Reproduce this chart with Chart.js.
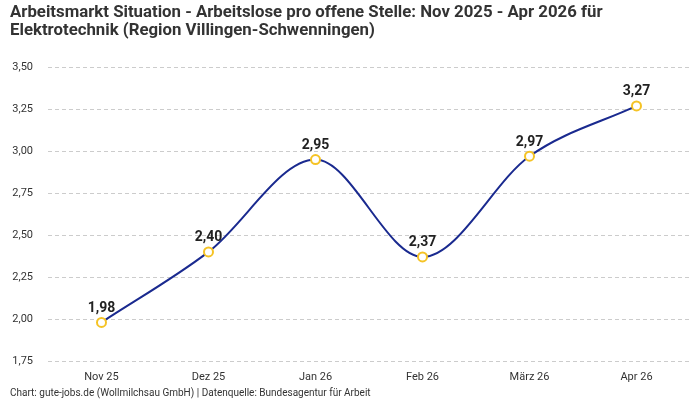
<!DOCTYPE html>
<html>
<head>
<meta charset="utf-8">
<script src="https://cdn.jsdelivr.net/npm/chart.js@4"></script>
<style>
  html, body { margin: 0; padding: 0; background: #fff; }
  #wrap { width: 700px; height: 400px; }
</style>
</head>
<body>
<div id="wrap"><canvas id="chart"></canvas></div>
<script>
// data
const months = ["Nov 25", "Dez 25", "Jan 26", "Feb 26", "März 26", "Apr 26"];
const ratio = [1.98, 2.40, 2.95, 2.37, 2.97, 3.27];
const yMin = 1.75;
const yMax = 3.5;
const yStep = 0.25;

const FONT = "Roboto, 'Noto Sans', sans-serif";
const fmt = v => v.toFixed(2).replace(".", ",");

// draws the value above each point
const valueLabels = {
  id: "valueLabels",
  afterDatasetsDraw(chart) {
    const ctx = chart.ctx;
    const meta = chart.getDatasetMeta(0);
    ctx.save();
    ctx.font = "bold 14px " + FONT;
    ctx.fillStyle = "#222";
    ctx.textAlign = "center";
    ctx.textBaseline = "bottom";
    meta.data.forEach((pt, i) => {
      ctx.fillText(fmt(ratio[i]), pt.x, pt.y - 7);
    });
    ctx.restore();
  }
};

new Chart(document.getElementById("chart"), {
  type: "line",
  data: {
    labels: months,
    datasets: [{
      data: ratio,
      borderColor: "#1a2a8f",
      borderWidth: 2,
      cubicInterpolationMode: "monotone",
      pointRadius: 4.5,
      pointBorderWidth: 2,
      pointBorderColor: "#f5c325",
      pointBackgroundColor: "#fff",
      fill: false
    }]
  },
  options: {
    responsive: true,
    maintainAspectRatio: false,
    animation: false,
    layout: { padding: { left: 10, right: 10, top: 0, bottom: 0 } },
    plugins: {
      legend: { display: false },
      tooltip: { enabled: false },
      title: {
        display: true,
        text: ["Arbeitsmarkt Situation - Arbeitslose pro offene Stelle: Nov 2025 - Apr 2026 für",
               "Elektrotechnik (Region Villingen-Schwenningen)"],
        align: "start",
        color: "#333",
        font: { family: FONT, size: 16.8, weight: "bold", lineHeight: 1.05 },
        padding: { top: 4, bottom: 28 }
      },
      subtitle: {
        display: true,
        position: "bottom",
        text: "Chart: gute-jobs.de (Wollmilchsau GmbH) | Datenquelle: Bundesagentur für Arbeit",
        align: "start",
        color: "#333",
        font: { family: FONT, size: 10, lineHeight: 1.0 },
        padding: { top: 2, bottom: 2 }
      }
    },
    scales: {
      x: {
        offset: true,
        grid: { display: false },
        border: { display: false },
        ticks: { color: "#333", font: { family: FONT, size: 11, lineHeight: 1.0 }, padding: 3 }
      },
      y: {
        min: yMin,
        max: yMax,
        border: { display: false, dash: [4, 3] },
        grid: { color: "#ccc", drawTicks: false },
        afterFit: axis => { axis.width = 38; },
        ticks: {
          stepSize: yStep,
          color: "#333",
          font: { family: FONT, size: 11 },
          padding: 15,
          callback: v => fmt(v)
        }
      }
    }
  },
  plugins: [valueLabels]
});
</script>
</body>
</html>
